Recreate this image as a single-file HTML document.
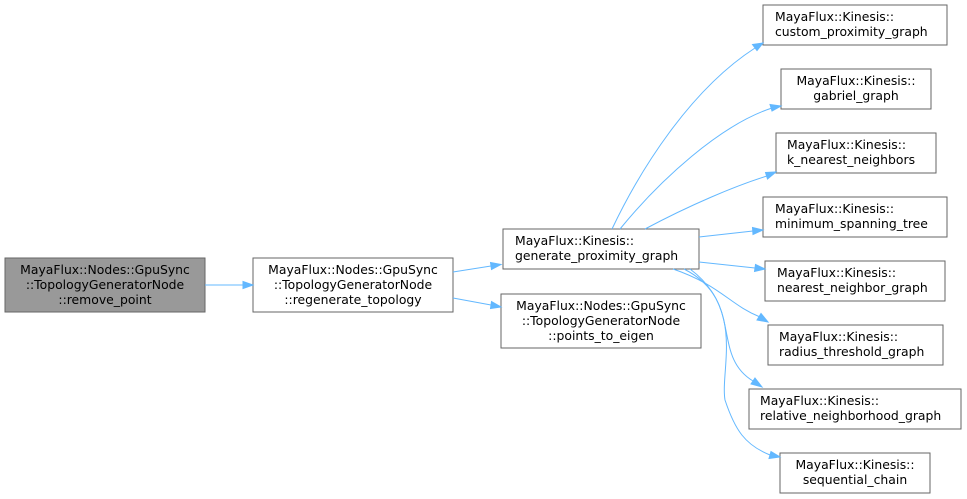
<!DOCTYPE html>
<html><head><meta charset="utf-8"><style>
body{margin:0;background:#fff;width:967px;height:499px;overflow:hidden}
svg{display:block}
text{font-family:"DejaVu Sans","Liberation Sans",sans-serif;font-size:12.4px;fill:#000}
.n{fill:#fff;stroke:#666;stroke-width:1}
.e{fill:none;stroke:#63b8ff;stroke-width:1}
.a{fill:#63b8ff;stroke:#63b8ff}
</style></head><body>
<svg width="967" height="499" viewBox="0 0 967 499">
<rect x="5" y="258" width="200" height="54" fill="#999" stroke="#666"/>
<text x="105" y="274" text-anchor="middle">MayaFlux::Nodes::GpuSync</text>
<text x="105" y="289" text-anchor="middle">::TopologyGeneratorNode</text>
<text x="105" y="304" text-anchor="middle">::remove_point</text>

<rect class="n" x="253" y="258" width="200" height="54"/>
<text x="353" y="274" text-anchor="middle">MayaFlux::Nodes::GpuSync</text>
<text x="353" y="289" text-anchor="middle">::TopologyGeneratorNode</text>
<text x="353" y="304" text-anchor="middle">::regenerate_topology</text>

<rect class="n" x="503" y="229" width="196" height="40"/>
<text x="515" y="245">MayaFlux::Kinesis::</text>
<text x="515" y="260">generate_proximity_graph</text>

<rect class="n" x="501" y="294" width="200" height="54"/>
<text x="601" y="310" text-anchor="middle">MayaFlux::Nodes::GpuSync</text>
<text x="601" y="325" text-anchor="middle">::TopologyGeneratorNode</text>
<text x="601" y="340" text-anchor="middle">::points_to_eigen</text>

<rect class="n" x="763" y="5" width="184" height="40"/><text x="775" y="21">MayaFlux::Kinesis::</text><text x="775" y="36">custom_proximity_graph</text>
<rect class="n" x="781" y="69" width="150" height="40"/><text x="856" y="85" text-anchor="middle">MayaFlux::Kinesis::</text><text x="856" y="100" text-anchor="middle">gabriel_graph</text>
<rect class="n" x="776" y="133" width="160" height="40"/><text x="787" y="149">MayaFlux::Kinesis::</text><text x="787" y="164">k_nearest_neighbors</text>
<rect class="n" x="763" y="197" width="184" height="40"/><text x="775" y="213">MayaFlux::Kinesis::</text><text x="775" y="228">minimum_spanning_tree</text>
<rect class="n" x="765" y="261" width="180" height="40"/><text x="777" y="277">MayaFlux::Kinesis::</text><text x="777" y="292">nearest_neighbor_graph</text>
<rect class="n" x="768" y="325" width="175" height="40"/><text x="779" y="341">MayaFlux::Kinesis::</text><text x="779" y="356">radius_threshold_graph</text>
<rect class="n" x="749" y="389" width="212" height="40"/><text x="760" y="405">MayaFlux::Kinesis::</text><text x="760" y="420">relative_neighborhood_graph</text>
<rect class="n" x="780" y="453" width="150" height="40"/><text x="855" y="469" text-anchor="middle">MayaFlux::Kinesis::</text><text x="855" y="484" text-anchor="middle">sequential_chain</text>

<path class="e" d="M205,285 L243,285"/><polygon class="a" points="243,281.5 253,285 243,288.5"/>
<path class="e" d="M453,272 L491,266"/><polygon class="a" points="490.5,262.5 501,264.5 491.5,269.5"/>
<path class="e" d="M453,298 L491,305"/><polygon class="a" points="491.5,301.5 501,307 490.5,308.5"/>

<path class="e" d="M612,229 C640,170 690,90 755,48"/><polygon class="a" points="752.5,44.5 763,43 757,50.5"/>
<path class="e" d="M620,229 C660,180 720,125 772,108"/><polygon class="a" points="770,104.5 781,106 772,111"/>
<path class="e" d="M645,229 C690,205 735,186 767,176"/><polygon class="a" points="765.5,172.5 776,172 767.5,179"/>
<path class="e" d="M699,237 L753,231"/><polygon class="a" points="752.5,227.5 763,230 753,234.5"/>
<path class="e" d="M699,262 L755,268"/><polygon class="a" points="755.5,264.5 765,269 754.5,271.5"/>
<path class="e" d="M673,269 C720,285 730,305 760,317"/><polygon class="a" points="761,313.5 768,322 757,320"/>
<path class="e" d="M684,269 C745,300 710,355 753,381"/><polygon class="a" points="755,378 762,387 751,384"/>
<path class="e" d="M690,269 C745,310 720,370 725,400 C735,430 745,445 770,455"/><polygon class="a" points="771,451.5 780,457 769,458.5"/>
</svg>
</body></html>
